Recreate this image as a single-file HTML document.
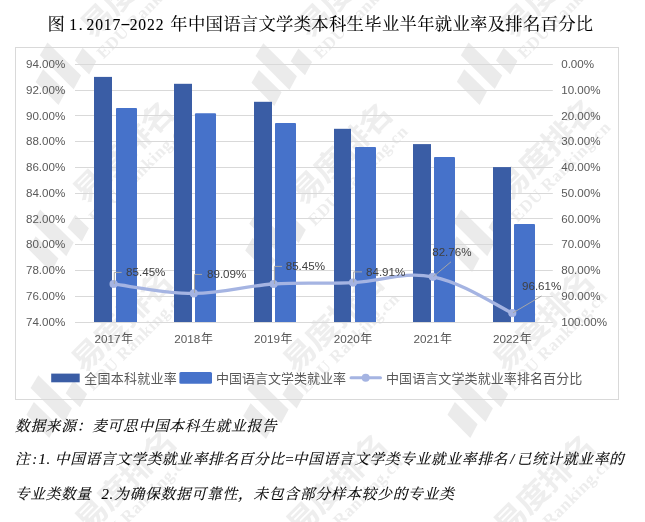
<!DOCTYPE html>
<html lang="zh-CN">
<head>
<meta charset="utf-8">
<title>图 1.2017-2022 年中国语言文学类本科生毕业半年就业率及排名百分比</title>
<style>
html,body{margin:0;padding:0;background:#fff}
body{position:relative;width:645px;height:522px;overflow:hidden;font-family:"Liberation Sans","Noto Sans CJK SC",sans-serif;color:#000}
svg{position:absolute;left:0;top:0;display:block}
.wm1{font-family:"Liberation Sans","Noto Sans CJK SC",sans-serif;font-weight:bold;font-size:30px;letter-spacing:-0.9px}
.wm2{font-family:"Liberation Serif","Noto Serif CJK SC",serif;font-weight:bold;font-size:17px;letter-spacing:0.7px}
.title{position:absolute;left:47.5px;top:11.7px;margin:0;font-family:"Liberation Serif","Noto Serif CJK SC",serif;font-weight:normal;font-size:17.33px;line-height:26px;white-space:nowrap;color:#000;-webkit-text-stroke:0.1px #000}
.title span{display:inline-block;vertical-align:baseline}
.title .c{letter-spacing:0.3px}
.title .n{font-size:15.6px;letter-spacing:0.85px;margin-left:-0.3px;transform:scaleY(1.12);transform-origin:50% 70.2%}
.title .d{width:8.65px;text-align:left;padding-left:1px;box-sizing:border-box;letter-spacing:0}
.title .h{width:8.65px;text-align:center;letter-spacing:0;transform:translateY(-1.2px) scaleX(1.9)}
.title .c2{margin-left:1.7px}
.ax text{font-family:"Liberation Sans","Noto Sans CJK SC",sans-serif;font-size:11.6px;fill:#595959}
.ax .cj{font-size:12px}
.cat text{font-size:11.7px}
.dl text{font-size:11.6px;fill:#404040}
.lg text{font-family:"Liberation Sans","Noto Sans CJK SC",sans-serif;font-size:13px;fill:#595959}
.note{position:absolute;left:15px;margin:0;font-family:"Liberation Serif","Noto Serif CJK SC",serif;font-style:italic;font-weight:normal;font-size:14.67px;letter-spacing:0.66px;line-height:20px;white-space:nowrap;color:#000;-webkit-text-stroke:0.12px #000}
.note .h{display:inline-block;box-sizing:border-box;text-align:center;white-space:pre;letter-spacing:0}
.note .s{display:inline-block;width:4.8px}
</style>
</head>
<body>
<svg class="wm" width="645" height="522" viewBox="0 0 645 522" aria-hidden="true">
<g fill="#ebebeb">
<text class="wm1" fill="#eeeeee" transform="translate(130.5 -13.5) rotate(-45) scale(1.1 1)" text-anchor="middle" dy="0.36em">易度排名</text>
<text class="wm2" fill="#ededed" transform="translate(147.6 9.3) rotate(-45)" text-anchor="middle" dy="0.25em">EDU Ranking.cn</text>
<text class="wm1" fill="#eeeeee" transform="translate(347.5 -13.5) rotate(-45) scale(1.1 1)" text-anchor="middle" dy="0.36em">易度排名</text>
<text class="wm2" fill="#ededed" transform="translate(364.6 9.3) rotate(-45)" text-anchor="middle" dy="0.25em">EDU Ranking.cn</text>
<text class="wm1" fill="#eeeeee" transform="translate(551.5 -13.5) rotate(-45) scale(1.1 1)" text-anchor="middle" dy="0.36em">易度排名</text>
<text class="wm2" fill="#ededed" transform="translate(568.6 9.3) rotate(-45)" text-anchor="middle" dy="0.25em">EDU Ranking.cn</text>
<polygon points="43.1,69.3 65.8,91.5 58.5,105.1 35.7,81.9"/>
<polygon points="47.5,42.5 81.1,75.5 73.7,89.2 39.8,55.3"/>
<polygon points="82.6,47.8 96.3,61.2 89.2,74.5 74.9,60.5"/>
<text class="wm1" fill="#eeeeee" transform="translate(123 152) rotate(-45) scale(1.1 1)" text-anchor="middle" dy="0.36em">易度排名</text>
<text class="wm2" fill="#ededed" transform="translate(139.6 173.3) rotate(-45)" text-anchor="middle" dy="0.25em">EDU Ranking.cn</text>
<polygon points="258.9,70.1 281.6,92.3 274.3,105.9 251.5,82.7"/>
<polygon points="263.3,43.3 296.9,76.3 289.5,90 255.6,56.1"/>
<polygon points="298.4,48.6 312.1,62 305,75.3 290.7,61.3"/>
<text class="wm1" fill="#eeeeee" transform="translate(341.3 153.5) rotate(-45) scale(1.1 1)" text-anchor="middle" dy="0.36em">易度排名</text>
<text class="wm2" fill="#ededed" transform="translate(358.9 176.4) rotate(-45)" text-anchor="middle" dy="0.25em">EDU Ranking.cn</text>
<polygon points="464.2,69.2 486.9,91.4 479.6,105 456.8,81.8"/>
<polygon points="468.6,42.4 502.2,75.4 494.8,89.1 460.9,55.2"/>
<polygon points="503.7,47.7 517.4,61.1 510.3,74.4 496,60.4"/>
<text class="wm1" fill="#eeeeee" transform="translate(546.4 149.5) rotate(-45) scale(1.1 1)" text-anchor="middle" dy="0.36em">易度排名</text>
<text class="wm2" fill="#ededed" transform="translate(561.6 172.4) rotate(-45)" text-anchor="middle" dy="0.25em">EDU Ranking.cn</text>
<polygon points="35.7,236.3 58.4,258.5 51.1,272.1 28.3,248.9"/>
<polygon points="40.1,209.5 73.7,242.5 66.3,256.2 32.4,222.3"/>
<polygon points="75.2,214.8 88.9,228.2 81.8,241.5 67.5,227.5"/>
<text class="wm1" fill="#eeeeee" transform="translate(121.6 321) rotate(-45) scale(1.1 1)" text-anchor="middle" dy="0.36em">易度排名</text>
<text class="wm2" fill="#ededed" transform="translate(137.2 341.3) rotate(-45)" text-anchor="middle" dy="0.25em">EDU Ranking.cn</text>
<polygon points="252.6,237.8 275.3,260 268,273.6 245.2,250.4"/>
<polygon points="257,211 290.6,244 283.2,257.7 249.3,223.8"/>
<polygon points="292.1,216.3 305.8,229.7 298.7,243 284.4,229"/>
<text class="wm1" fill="#eeeeee" transform="translate(333 321.5) rotate(-45) scale(1.1 1)" text-anchor="middle" dy="0.36em">易度排名</text>
<text class="wm2" fill="#ededed" transform="translate(350.1 343.8) rotate(-45)" text-anchor="middle" dy="0.25em">EDU Ranking.cn</text>
<polygon points="456.7,236.3 479.4,258.5 472.1,272.1 449.3,248.9"/>
<polygon points="461.1,209.5 494.7,242.5 487.3,256.2 453.4,222.3"/>
<polygon points="496.2,214.8 509.9,228.2 502.8,241.5 488.5,227.5"/>
<text class="wm1" fill="#eeeeee" transform="translate(543.1 320.5) rotate(-45) scale(1.1 1)" text-anchor="middle" dy="0.36em">易度排名</text>
<text class="wm2" fill="#ededed" transform="translate(558.2 341.3) rotate(-45)" text-anchor="middle" dy="0.25em">EDU Ranking.cn</text>
<polygon points="33.9,402.1 56.6,424.3 49.3,437.9 26.5,414.7"/>
<polygon points="38.3,375.3 71.9,408.3 64.5,422 30.6,388.1"/>
<polygon points="73.4,380.6 87.1,394 80,407.3 65.7,393.3"/>
<text class="wm1" fill="#eeeeee" transform="translate(125.1 481.5) rotate(-45) scale(1.1 1)" text-anchor="middle" dy="0.36em">易度排名</text>
<text class="wm2" fill="#ededed" transform="translate(141.4 504.1) rotate(-45)" text-anchor="middle" dy="0.25em">EDU Ranking.cn</text>
<polygon points="250.6,403.3 273.3,425.5 266,439.1 243.2,415.9"/>
<polygon points="255,376.5 288.6,409.5 281.2,423.2 247.3,389.3"/>
<polygon points="290.1,381.8 303.8,395.2 296.7,408.5 282.4,394.5"/>
<text class="wm1" fill="#eeeeee" transform="translate(336.3 484.8) rotate(-45) scale(1.1 1)" text-anchor="middle" dy="0.36em">易度排名</text>
<text class="wm2" fill="#ededed" transform="translate(353.9 507.1) rotate(-45)" text-anchor="middle" dy="0.25em">EDU Ranking.cn</text>
<polygon points="454.9,402.1 477.6,424.3 470.3,437.9 447.5,414.7"/>
<polygon points="459.3,375.3 492.9,408.3 485.5,422 451.6,388.1"/>
<polygon points="494.4,380.6 508.1,394 501,407.3 486.7,393.3"/>
<text class="wm1" fill="#eeeeee" transform="translate(543.9 485.5) rotate(-45) scale(1.1 1)" text-anchor="middle" dy="0.36em">易度排名</text>
<text class="wm2" fill="#ededed" transform="translate(563.4 507.7) rotate(-45)" text-anchor="middle" dy="0.25em">EDU Ranking.cn</text>
</g></svg>
<h1 class="title"><span class="c">图</span> <span class="n">1<span class="d">.</span>2017<span class="h">-</span>2022</span> <span class="c c2">年中国语言文学类本科生毕业半年就业率及排名百分比</span></h1>
<svg class="chart" width="645" height="522" viewBox="0 0 645 522">
<rect x="15.5" y="47.5" width="603" height="352" fill="none" stroke="#d9d9d9" stroke-width="1"/>
<g stroke="#d9d9d9" stroke-width="1">
<line x1="75" y1="64.5" x2="552.8" y2="64.5"/>
<line x1="75" y1="90.5" x2="552.8" y2="90.5"/>
<line x1="75" y1="115.5" x2="552.8" y2="115.5"/>
<line x1="75" y1="141.5" x2="552.8" y2="141.5"/>
<line x1="75" y1="167.5" x2="552.8" y2="167.5"/>
<line x1="75" y1="193.5" x2="552.8" y2="193.5"/>
<line x1="75" y1="218.5" x2="552.8" y2="218.5"/>
<line x1="75" y1="244.5" x2="552.8" y2="244.5"/>
<line x1="75" y1="270.5" x2="552.8" y2="270.5"/>
<line x1="75" y1="296.5" x2="552.8" y2="296.5"/>
<line x1="75" y1="322.5" x2="552.8" y2="322.5"/>
</g>
<g class="ax" text-anchor="end">
<text x="65.3" y="68.1">94.00%</text>
<text x="65.3" y="93.87">92.00%</text>
<text x="65.3" y="119.64">90.00%</text>
<text x="65.3" y="145.41">88.00%</text>
<text x="65.3" y="171.18">86.00%</text>
<text x="65.3" y="196.95">84.00%</text>
<text x="65.3" y="222.72">82.00%</text>
<text x="65.3" y="248.49">80.00%</text>
<text x="65.3" y="274.26">78.00%</text>
<text x="65.3" y="300.03">76.00%</text>
<text x="65.3" y="325.8">74.00%</text>
</g>
<g class="ax">
<text x="561.2" y="68.1">0.00%</text>
<text x="561.2" y="93.87">10.00%</text>
<text x="561.2" y="119.64">20.00%</text>
<text x="561.2" y="145.41">30.00%</text>
<text x="561.2" y="171.18">40.00%</text>
<text x="561.2" y="196.95">50.00%</text>
<text x="561.2" y="222.72">60.00%</text>
<text x="561.2" y="248.49">70.00%</text>
<text x="561.2" y="274.26">80.00%</text>
<text x="561.2" y="300.03">90.00%</text>
<text x="561.2" y="325.8">100.00%</text>
</g>
<g fill="#3a5da5">
<rect x="94" y="76.9" width="18" height="245.1"/>
<rect x="174" y="83.8" width="18" height="238.2"/>
<rect x="254" y="101.8" width="18" height="220.2"/>
<rect x="334" y="128.8" width="17" height="193.2"/>
<rect x="413" y="144.1" width="18" height="177.9"/>
<rect x="493" y="167.1" width="18" height="154.9"/>
</g>
<g fill="#4672ca">
<path d="M116 322 V108.9 Q116 108 116.9 108 H136.1 Q137 108 137 108.9 V322 Z"/>
<path d="M195 322 V114.2 Q195 113.3 195.9 113.3 H215.1 Q216 113.3 216 114.2 V322 Z"/>
<path d="M275 322 V124 Q275 123.1 275.9 123.1 H295.1 Q296 123.1 296 124 V322 Z"/>
<path d="M355 322 V147.9 Q355 147 355.9 147 H375.1 Q376 147 376 147.9 V322 Z"/>
<path d="M434 322 V157.9 Q434 157 434.9 157 H454.1 Q455 157 455 157.9 V322 Z"/>
<path d="M514 322 V224.9 Q514 224 514.9 224 H534.1 Q535 224 535 224.9 V322 Z"/>
</g>
<path d="M113.6 284 C128.84 285.79 163.4 293.4 193.8 293.4 C224.2 293.4 243.35 286.05 273.6 284 C303.85 281.95 322.75 283.97 353 282.6 C383.25 281.23 402.53 271 432.8 276.8 C463.07 282.6 497.19 306.2 512.3 313.1" fill="none" stroke="#a5b4e2" stroke-width="3.3" stroke-linecap="round" stroke-linejoin="round"/>
<g fill="#a5b4e2">
<circle cx="113.6" cy="284" r="4.1"/>
<circle cx="193.8" cy="293.4" r="4.1"/>
<circle cx="273.6" cy="284" r="4.1"/>
<circle cx="353" cy="282.6" r="4.1"/>
<circle cx="432.8" cy="276.8" r="4.1"/>
<circle cx="512.3" cy="313.1" r="4.1"/>
</g>
<g fill="none" stroke="#a6a6a6" stroke-width="1">
<polyline points="114.3,284 114.3,272.4 121.7,272.4"/>
<polyline points="194.5,293 194.5,274.4 202,274.4"/>
<polyline points="274.4,284 274.4,266.4 282,266.4"/>
<polyline points="353.7,282.5 353.7,271.9 362,271.9"/>
<polyline points="433.5,276.5 451,261.8"/>
<polyline points="513,312.8 541.5,296"/>
</g>
<g class="ax dl">
<text x="126.1" y="275.7">85.45%</text>
<text x="207" y="278.1">89.09%</text>
<text x="285.7" y="270.1">85.45%</text>
<text x="366" y="276">84.91%</text>
<text x="432.2" y="255.6">82.76%</text>
<text x="522" y="290">96.61%</text>
</g>
<g class="ax cat" text-anchor="middle">
<text x="113.9" y="343">2017<tspan class="cj" dx="0.6">年</tspan></text>
<text x="193.6" y="343">2018<tspan class="cj" dx="0.6">年</tspan></text>
<text x="273.3" y="343">2019<tspan class="cj" dx="0.6">年</tspan></text>
<text x="353" y="343">2020<tspan class="cj" dx="0.6">年</tspan></text>
<text x="432.7" y="343">2021<tspan class="cj" dx="0.6">年</tspan></text>
<text x="512.4" y="343">2022<tspan class="cj" dx="0.6">年</tspan></text>
</g>
<rect x="51.2" y="373.6" width="28.5" height="8.7" fill="#3a5da5"/>
<rect x="179.4" y="372.1" width="32.6" height="11.6" rx="1.5" fill="#4672ca"/>
<line x1="351" y1="377.8" x2="380.5" y2="377.8" stroke="#a5b4e2" stroke-width="3" stroke-linecap="round"/>
<circle cx="365.7" cy="377.8" r="4" fill="#a5b4e2"/>
<g class="lg">
<text x="84.2" y="382.9" letter-spacing="0.25">全国本科就业率</text>
<text x="216" y="382.9">中国语言文学类就业率</text>
<text x="386" y="382.9" letter-spacing="0.09">中国语言文学类就业率排名百分比</text>
</g>
</svg>
<p class="note" style="top:415.6px;letter-spacing:0.78px">数据来源：麦可思中国本科生就业报告</p>
<p class="note" style="top:448.7px">注<span class="h" style="width:7.6px;text-align:left;padding-left:1.9px">:</span><span class="h" style="width:8.3px">1</span><span class="h" style="width:8.6px;text-align:left;padding-left:0.2px">.</span>中国语言文学类就业率排名百分比<span class="h" style="width:8.15px">=</span><span style="letter-spacing:0.72px">中国语言文学类专业就业率排名</span><span class="h" style="width:8.8px">/</span><span style="letter-spacing:0.72px">已统计就业率的</span></p>
<p class="note" style="top:483.9px">专业类数量<span class="h" style="width:9.5px"> </span><span class="h" style="width:8.3px">2</span><span class="h" style="width:4.8px;text-align:left;padding-left:0.2px">.</span><span style="letter-spacing:0.82px">为确保数据可靠性，未包含部分样本较少的专业类</span></p>
</body>
</html>
